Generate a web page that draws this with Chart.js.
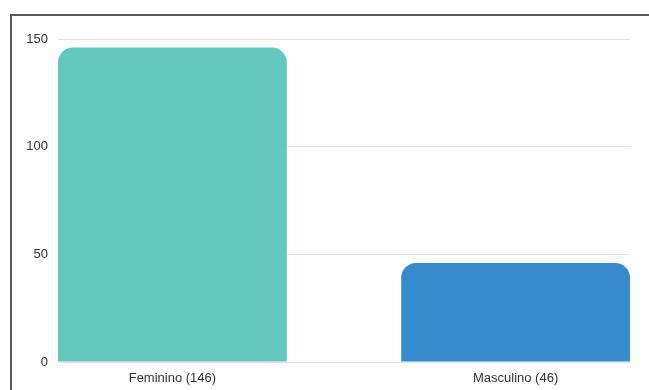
<!DOCTYPE html>
<html>
<head>
<meta charset="utf-8">
<script src="https://cdn.jsdelivr.net/npm/chart.js@4/dist/chart.umd.min.js"></script>
<style>
  html, body { margin: 0; padding: 0; background: #fff; overflow: hidden; }
  #wrap { position: relative; width: 649px; height: 390px; }
  #frame {
    position: absolute; left: 10px; top: 14px; width: 660px; height: 400px;
    border: 2px solid #5a5a5a; box-sizing: border-box; pointer-events: none;
  }
  canvas { position: absolute; left: 0; top: 0; }
</style>
</head>
<body>
<div id="wrap">
  <canvas id="myChart" width="649" height="390"></canvas>
  <div id="frame"></div>
</div>
<script>
const categories = ['Feminino (146)', 'Masculino (46)'];
const counts = [146, 46];
const barColors = ['#63c6bf', '#358bcb'];
const yTicks = [0, 50, 100, 150];

// bars sit on a numeric x axis so they can touch both ends of the plot
const points = counts.map((c, i) => ({ x: i, y: c }));
const fontSpec = { family: 'Liberation Sans', size: 13 };

const ctx = document.querySelector('#myChart');
// eslint-disable-next-line no-unused-vars
const barChart = new Chart(ctx, {
  type: 'bar',
  data: {
    datasets: [{
      label: 'Sexo',
      data: points,
      backgroundColor: barColors,
      borderRadius: 15,
      barPercentage: 2 / 3,
      categoryPercentage: 1,
    }],
  },
  options: {
    responsive: false,
    animation: false,
    layout: { padding: { left: 0, top: 39, right: 19, bottom: 0 } },
    plugins: { legend: { display: false }, tooltip: { enabled: false } },
    scales: {
      x: {
        type: 'linear',
        offset: false,
        min: -1 / 3,
        max: categories.length - 1 + 1 / 3,
        grid: { display: false },
        border: { display: false },
        afterBuildTicks: (s) => { s.ticks = categories.map((_, i) => ({ value: i })); },
        ticks: {
          color: '#333',
          font: fontSpec,
          padding: 1,
          callback: (v) => categories[v],
        },
        afterFit: (s) => { s.height = 28; },
      },
      y: {
        min: yTicks[0],
        max: yTicks[yTicks.length - 1],
        afterBuildTicks: (s) => { s.ticks = yTicks.map((v) => ({ value: v })); },
        ticks: { color: '#333', font: fontSpec, padding: 10 },
        grid: { color: '#e2e2e2', drawTicks: false },
        border: { display: false },
        afterFit: (s) => { s.width = 58; },
      },
    },
  },
});
</script>
</body>
</html>
